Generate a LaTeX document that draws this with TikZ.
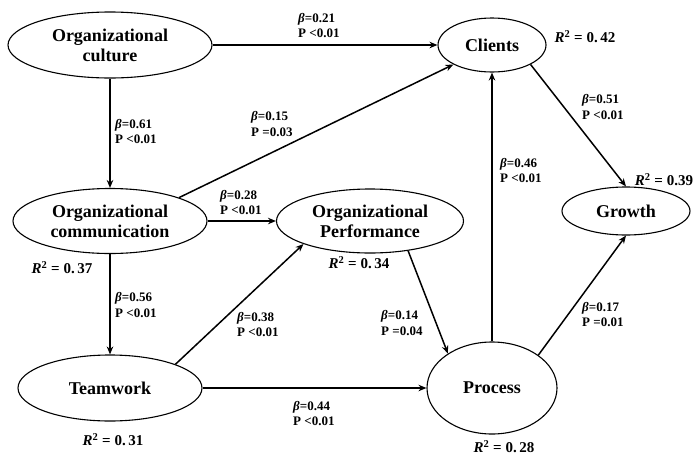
\documentclass[tikz,border=0pt]{standalone}
\usepackage{fontspec}
\setmainfont{Liberation Serif}
\usetikzlibrary{shapes.geometric,arrows.meta}
\begin{document}
\begin{tikzpicture}[x=1pt,y=-1pt,
  ell/.style={ellipse,draw,line width=1.1pt,inner sep=0pt,align=center,
    font=\fontsize{18}{20}\selectfont\bfseries},
  lab/.style={inner sep=0pt,align=left,anchor=west,
    font=\fontsize{13}{15.5}\selectfont\bfseries},
  rsq/.style={inner sep=0pt,font=\fontsize{15}{17}\selectfont\bfseries},
  arr/.style={line width=1.5pt,-{Stealth[length=8pt,width=6.5pt]}}]
\useasboundingbox (0,0) rectangle (697,456);
% nodes
\node[ell,minimum width=204pt,minimum height=66pt] (oc) at (110,45) {Organizational\\culture};
\node[ell,minimum width=108pt,minimum height=54pt] (cl) at (492,45) {Clients};
\node[ell,minimum width=194pt,minimum height=65pt] (ocm) at (110,221) {Organizational\\communication};
\node[ell,minimum width=187pt,minimum height=64pt] (opf) at (370,221) {Organizational\\Performance};
\node[ell,minimum width=184pt,minimum height=66pt] (tw) at (110,388) {Teamwork};
\node[ell,minimum width=130pt,minimum height=92pt] (pr) at (492,388) {Process};
\node[ell,minimum width=128pt,minimum height=48pt] (gr) at (626,211) {Growth};
% connectors
\draw[arr] (oc.east) -- (cl.west);
\draw[arr] (oc.south) -- (ocm.north);
\draw[arr] (ocm.north east) -- (cl.south west);
\draw[arr] (ocm.east) -- (opf.west);
\draw[arr] (ocm.south) -- (tw.north);
\draw[arr] (tw.north east) -- (opf.south west);
\draw[arr] (tw.east) -- (pr.west);
\draw[arr] (opf.-38) -- (pr.142.5);
\draw[arr] (pr.north) -- (cl.south);
\draw[arr] (cl.south east) -- (gr.north);
\draw[arr] (pr.north east) -- (gr.south);
% path labels
\node[lab] (l1) at (298,25.5) {\textit{β}=0.21\\P <0.01};
\node[lab] (l2) at (115,131.5) {\textit{β}=0.61\\P <0.01};
\node[lab] (l3) at (251,124) {\textit{β}=0.15\\P =0.03};
\node[lab] (l4) at (220,202.5) {\textit{β}=0.28\\P <0.01};
\node[lab] (l5) at (582,107) {\textit{β}=0.51\\P <0.01};
\node[lab] (l6) at (500,170.5) {\textit{β}=0.46\\P <0.01};
\node[lab] (l7) at (115,305) {\textit{β}=0.56\\P <0.01};
\node[lab] (l8) at (237,324.5) {\textit{β}=0.38\\P <0.01};
\node[lab] (l9) at (293,413.5) {\textit{β}=0.44\\P <0.01};
\node[lab] (l10) at (381,323) {\textit{β}=0.14\\P =0.04};
\node[lab] (l11) at (582,314.5) {\textit{β}=0.17\\P =0.01};
% R squared
\node[rsq] (r1) at (585,37) {\textit{R}\textsuperscript{2} = 0.\,42};
\node[rsq] (r2) at (664,180) {\textit{R}\textsuperscript{2} = 0.39};
\node[rsq] (r3) at (62,268) {\textit{R}\textsuperscript{2} = 0.\,37};
\node[rsq] (r4) at (113,440) {\textit{R}\textsuperscript{2} = 0.\,31};
\node[rsq] (r5) at (359,263) {\textit{R}\textsuperscript{2} = 0.\,34};
\node[rsq] (r6) at (504,447) {\textit{R}\textsuperscript{2} = 0.\,28};
\end{tikzpicture}
\end{document}
